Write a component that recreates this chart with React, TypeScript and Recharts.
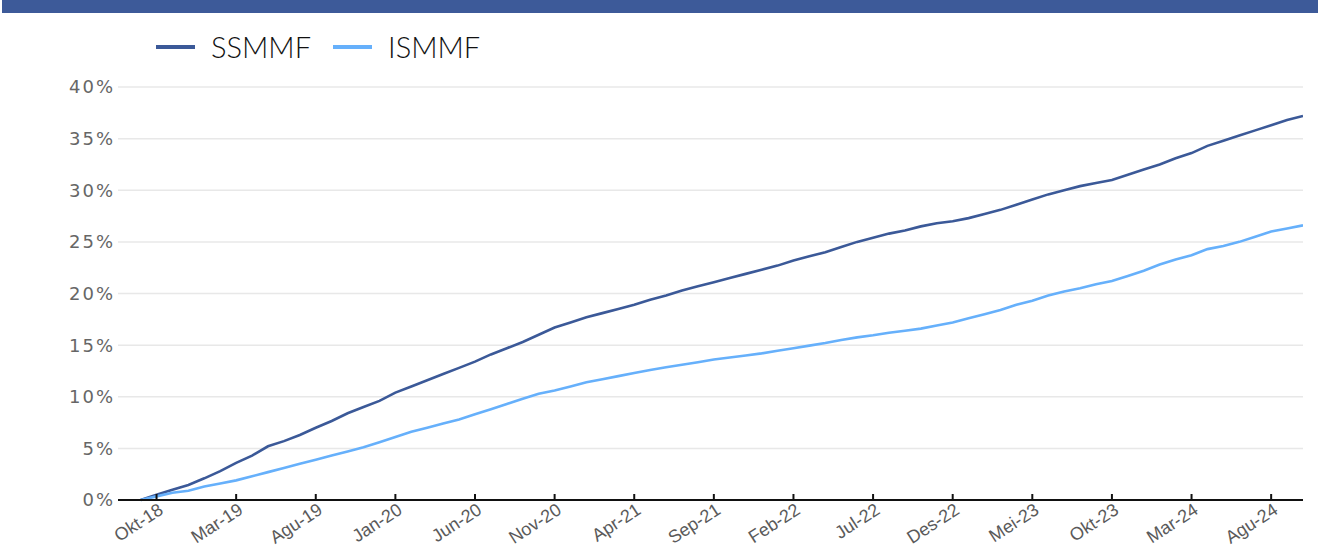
import { CartesianGrid, Legend, Line, LineChart, XAxis, YAxis } from "recharts";

// month labels, Sep-18 .. Okt-24 (index 1 = Okt-18)
const months = [
	"Sep-18", "Okt-18", "Nov-18", "Des-18",
	"Jan-19", "Feb-19", "Mar-19", "Apr-19", "Mei-19", "Jun-19", "Jul-19", "Agu-19", "Sep-19", "Okt-19", "Nov-19", "Des-19",
	"Jan-20", "Feb-20", "Mar-20", "Apr-20", "Mei-20", "Jun-20", "Jul-20", "Agu-20", "Sep-20", "Okt-20", "Nov-20", "Des-20",
	"Jan-21", "Feb-21", "Mar-21", "Apr-21", "Mei-21", "Jun-21", "Jul-21", "Agu-21", "Sep-21", "Okt-21", "Nov-21", "Des-21",
	"Jan-22", "Feb-22", "Mar-22", "Apr-22", "Mei-22", "Jun-22", "Jul-22", "Agu-22", "Sep-22", "Okt-22", "Nov-22", "Des-22",
	"Jan-23", "Feb-23", "Mar-23", "Apr-23", "Mei-23", "Jun-23", "Jul-23", "Agu-23", "Sep-23", "Okt-23", "Nov-23", "Des-23",
	"Jan-24", "Feb-24", "Mar-24", "Apr-24", "Mei-24", "Jun-24", "Jul-24", "Agu-24", "Sep-24", "Okt-24",
];

const ssmmf = [
	0, 0.5, 1.0, 1.45,
	2.1, 2.8, 3.6, 4.3, 5.2, 5.7, 6.3, 7.0, 7.65, 8.4, 9.0, 9.6,
	10.4, 11.0, 11.6, 12.2, 12.8, 13.4, 14.1, 14.7, 15.3, 16.0, 16.7, 17.2,
	17.7, 18.1, 18.5, 18.9, 19.4, 19.8, 20.3, 20.7, 21.1, 21.5, 21.9, 22.3,
	22.7, 23.2, 23.6, 24.0, 24.5, 25.0, 25.4, 25.8, 26.1, 26.5, 26.8, 27.0,
	27.3, 27.7, 28.1, 28.6, 29.1, 29.6, 30.0, 30.4, 30.7, 31.0, 31.5, 32.0,
	32.5, 33.1, 33.6, 34.3, 34.8, 35.3, 35.8, 36.3, 36.8, 37.2,
];

const ismmf = [
	0, 0.35, 0.7, 0.9,
	1.3, 1.6, 1.9, 2.3, 2.7, 3.1, 3.5, 3.9, 4.3, 4.7, 5.1, 5.6,
	6.1, 6.6, 7.0, 7.4, 7.8, 8.3, 8.8, 9.3, 9.8, 10.3, 10.6, 11.0,
	11.4, 11.7, 12.0, 12.3, 12.6, 12.85, 13.1, 13.35, 13.6, 13.8, 14.0, 14.2,
	14.45, 14.7, 14.95, 15.2, 15.5, 15.75, 15.95, 16.2, 16.4, 16.6, 16.9, 17.2,
	17.6, 18.0, 18.4, 18.9, 19.3, 19.8, 20.2, 20.5, 20.9, 21.2, 21.7, 22.2,
	22.8, 23.3, 23.7, 24.3, 24.6, 25.0, 25.5, 26.0, 26.3, 26.6,
];

// every 5th month starting from Okt-18
const xTicks = [0, 5, 10, 15, 20, 25, 30, 35, 40, 45, 50, 55, 60, 65, 70];
const yTicks = [0, 5, 10, 15, 20, 25, 30, 35, 40];

const DARK = "#3b5998";
const LIGHT = "#66b0fb";

const data = months.map((m, i) => ({ t: i - 1, month: m, SSMMF: ssmmf[i], ISMMF: ismmf[i] }));

function XTick({ x, y, payload }: any) {
	const label = months[payload.value + 1];
	const tx = x + 1;
	const ty = y + 2;
	return (
		<g>
			<line x1={x} x2={x} y1={y - 6} y2={y} stroke="#111" strokeWidth={2} />
			<text
				x={tx}
				y={ty}
				textAnchor="end"
				dominantBaseline="hanging"
				transform={`rotate(-33 ${tx} ${ty})`}
				fill="#5a5a5a"
				fontSize={18}
				fontFamily="Arial, 'Liberation Sans', sans-serif"
			>
				{label}
			</text>
		</g>
	);
}

function LegendBox() {
	const items = [
		{ name: "SSMMF", color: DARK },
		{ name: "ISMMF", color: LIGHT },
	];
	return (
		<div style={{ display: "flex", alignItems: "center", height: 40 }}>
			{items.map((it) => (
				<div key={it.name} style={{ display: "flex", alignItems: "center", marginRight: 22 }}>
					<div style={{ width: 39, height: 4, background: it.color, marginRight: 16 }} />
					<span style={{ fontFamily: "Lato, sans-serif", fontWeight: 300, fontSize: 29, color: "#111", lineHeight: "40px" }}>
						{it.name}
					</span>
				</div>
			))}
		</div>
	);
}

export default function App() {
	return (
		<div style={{ position: "absolute", left: 0, top: 0, width: 1322, height: 549, background: "#fff" }}>
			<div style={{ position: "absolute", left: 2, top: 0, width: 1316, height: 13, background: "#3d5a99" }} />
			<LineChart width={1322} height={549} data={data} margin={{ top: 47, right: 19, bottom: 9, left: 58 }}>
				<CartesianGrid vertical={false} stroke="#e8e8e8" strokeWidth={1.5} />
				<Legend
					verticalAlign="top"
					align="left"
					content={<LegendBox />}
					wrapperStyle={{ top: 27, left: 156, width: "auto", height: 40 }}
				/>
				<XAxis
					dataKey="t"
					type="number"
					domain={[-2.42, 72]}
					ticks={xTicks}
					interval={0}
					height={40}
					tickSize={0}
					tickMargin={0}
					axisLine={{ stroke: "#111", strokeWidth: 2 }}
					tickLine={false}
					tick={<XTick />}
					allowDataOverflow
				/>
				<YAxis
					domain={[0, 40]}
					ticks={yTicks}
					width={60}
					tickSize={0}
					tickMargin={3}
					axisLine={false}
					tickLine={false}
					tickFormatter={(v) => `${v}%`}
					tick={{ fill: "#666", fontSize: 18, fontFamily: "'DejaVu Sans', sans-serif", letterSpacing: 2 }}
				/>
				<Line dataKey="SSMMF" stroke={DARK} strokeWidth={2.6} dot={false} type="linear" isAnimationActive={false} />
				<Line dataKey="ISMMF" stroke={LIGHT} strokeWidth={2.6} dot={false} type="linear" isAnimationActive={false} />
			</LineChart>
		</div>
	);
}
